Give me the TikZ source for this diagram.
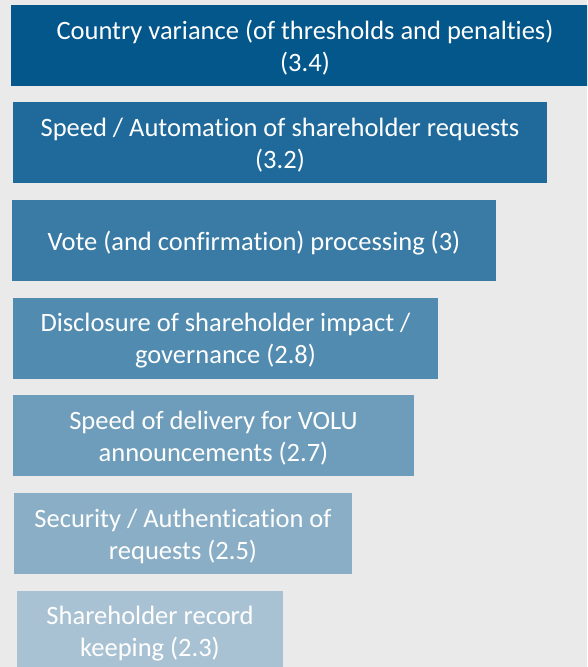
\documentclass[tikz,border=0pt]{standalone}
\usepackage{fontspec}
\setmainfont{Carlito}[Ligatures=NoCommon]
\definecolor{bgcol}{HTML}{EAEAEA}
\definecolor{c1}{HTML}{03578B}
\definecolor{c2}{HTML}{1F6A9B}
\definecolor{c3}{HTML}{3A7BA6}
\definecolor{c4}{HTML}{528BB0}
\definecolor{c5}{HTML}{6D9DBB}
\definecolor{c6}{HTML}{8AAEC6}
\definecolor{c7}{HTML}{A9C2D3}
\tikzset{
  bar/.style={inner sep=0pt, minimum height=81pt},
  bartext/.style={inner sep=0pt, align=center, text=white,
    font=\fontsize{26.5}{32}\selectfont}
}
\begin{document}
\begin{tikzpicture}[x=1pt,y=-1pt]
\useasboundingbox (0,0) rectangle (587,667);
\clip (0,0) rectangle (587,667);
\fill[bgcol] (0,0) rectangle (587,667);
% bars, longest first
\node[bar, fill=c1, minimum width=588pt] (b1) at (305,45.5) {};
\node[bar, fill=c2, minimum width=534pt] (b2) at (280,142.5) {};
\node[bar, fill=c3, minimum width=484pt] (b3) at (254,240.5) {};
\node[bar, fill=c4, minimum width=425pt] (b4) at (225.5,338.5) {};
\node[bar, fill=c5, minimum width=401pt] (b5) at (213.5,435.5) {};
\node[bar, fill=c6, minimum width=338pt] (b6) at (183,533.5) {};
\node[bar, fill=c7, minimum width=266pt] (b7) at (150,631.5) {};
% labels, set slightly below each bar's centre
\node[bartext] (t1) at ([yshift=-2.5pt]b1.center)
  {Country variance (of thresholds and penalties)\\(3.4)};
\node[bartext] (t2) at ([yshift=-2.5pt]b2.center)
  {Speed / Automation of shareholder requests\\(3.2)};
\node[bartext] (t3) at ([yshift=-2.5pt]b3.center)
  {Vote (and confirmation) processing (3)};
\node[bartext] (t4) at ([yshift=-2.5pt]b4.center)
  {Disclosure of shareholder impact /\\governance (2.8)};
\node[bartext] (t5) at ([yshift=-2.5pt]b5.center)
  {Speed of delivery for VOLU\\announcements (2.7)};
\node[bartext] (t6) at ([yshift=-2.5pt]b6.center)
  {Security / Authentication of\\requests (2.5)};
\node[bartext] (t7) at ([yshift=-2.5pt]b7.center)
  {Shareholder record\\keeping (2.3)};
\end{tikzpicture}
\end{document}
